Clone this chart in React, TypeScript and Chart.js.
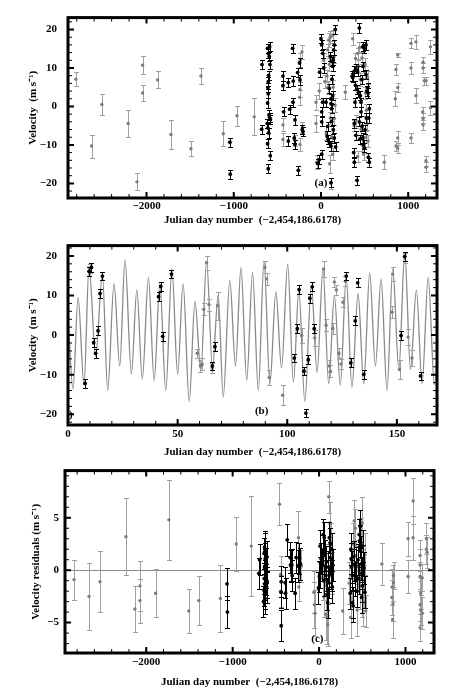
import React, { useEffect, useRef } from 'react';
import { Chart, registerables } from 'chart.js';

Chart.register(...registerables);

const FONT = '"Liberation Serif", "Times New Roman", Times, serif';
const W = 463;
const X_TITLE = 'Julian day number  (\u22122,454,186.6178)';

// ---------- tick values ----------
const A_X_TICKS = [-2000, -1000, 0, 1000];
const A_Y_TICKS = [-20, -10, 0, 10, 20];
const B_X_TICKS = [0, 50, 100, 150];
const B_Y_TICKS = [-20, -10, 0, 10, 20];
const C_X_TICKS = [-2000, -1000, 0, 1000];
const C_Y_TICKS = [-5, 0, 5];

// ---------- Panel (a): velocities vs time ----------
const A_GRAY_DAY = [-2810, -2630, -2512, -2210, -2110, -2045, -2045, -1873, -1720, -1491, -1376, -1120, -963, -765,
  -436, -436, -298, -245, -241, -241, -237, -218, -212, -57, -57, -50, 69, 76, 88, 107, 99, 115, 96, 76, 161, 134, 153,
  134, 107, 122, 279, 363, 420, 440, 451, 470, 489, 500, 510, 520, 530, 540, 470, 459, 400, 420, 726, 852, 860, 880,
  880, 860, 880, 880, 1032, 1032, 1032, 1089, 1089, 1170, 1170, 1185, 1205, 1166, 1170, 1170, 1204, 1204, 1255, 1255,
  30, 45, 60, 140, 150, 380, 395, 430, 505, 535, 515, -20];
const A_GRAY_VEL = [7.1, -10.3, 0.5, -4.4, -19.6, 3.5, 10.7, 6.9, -7.3, -11.0, 7.9, -7.1, -2.4, -2.7,
  -4.8, -8.6, -8.8, 2.4, 4.4, -9.9, 12.0, 14.2, -5.4, 1.1, -4.4, -14.5, 7.9, 4.9, 17.2, 18.0, -14.9, -20.0, 10.9, 14.7, 0.3, 18.5, -3.1,
  -12.4, -3.0, -8.0, 3.7, 17.6, 13.8, 15.3, 7.0, 12.6, -12.4, 9.0, 3.5, -1.0, -4.5, -9.0, -10.0, -6.0, -3.8, -13.0, -14.5, 2.0, 9.6, 13.4,
  4.9, -10.3, -10.8, -8.2, 16.4, 10.0, -8.2, 16.8, 2.8, 11.5, 10.0, 6.7, 6.7, -1.4, -3.1, -4.8, -14.1, -15.8, 15.5, -0.3,
  12.0, 6.5, -7.0, 5.0, 13.0, -5.0, 12.5, 10.5, 11.0, 7.5, -8.0, 4.0];
const A_GRAY_ERR = [1.8, 3.0, 2.8, 3.6, 2.2, 2.2, 2.3, 2.2, 3.7, 2.0, 2.1, 3.2, 2.6, 4.8,
  1.7, 1.7, 1.4, 2.0, 2.0, 1.8, 1.8, 1.8, 1.4, 2.0, 2.3, 1.8, 1.6, 1.6, 1.8, 1.6, 2.4, 1.4, 1.6, 1.5, 1.8, 1.5, 1.6,
  1.6, 1.6, 1.6, 1.8, 1.5, 1.5, 1.5, 1.6, 1.5, 1.6, 1.5, 1.6, 1.6, 1.6, 1.6, 1.5, 1.5, 1.7, 1.5, 1.8, 2.0, 1.5, 0.6,
  1.2, 1.2, 1.2, 1.8, 1.3, 1.5, 1.3, 1.8, 2.0, 1.3, 1.3, 1.0, 1.0, 1.3, 1.3, 1.3, 1.3, 1.3, 1.8, 1.8,
  1.8, 1.6, 1.8, 1.8, 1.6, 1.5, 1.5, 1.5, 1.5, 1.6, 1.6, 2.0];

const A_BLACK_DAY = [-1044, -1040, -676, -680, -589, -612, -604, -593, -585, -600, -604, -608, -604, -612, -596, -589,
  -581, -616, -608, -600, -612, -581, -604, -436, -436, -428, -375, -359, -325, -321, -318, -375, -306, -298, -298,
  -268, -260, -245, -241, -215, -207, 0, 8, 19, -15, 31, 8, 19, 8, 57, 76, 69, 84, 96, 115, 122, 134, 115, 126, 134,
  141, 145, 153, 164, 168, 153, 141, 115, 122, 96, 107, 122, -38, -19, 8, 115, 440, 413, 382, 375, 382, 390, 356, 365,
  382, 401, 420, 428, 451, 459, 470, 478, 489, 497, 478, 497, 516, 516, 535, 554, 459, 470, 482, 554, 543, 440, 505,
  520, 395, 410, 400, 445, 525, 540, 548];
const A_BLACK_VEL = [-9.3, -17.6, 10.9, -5.9, 15.5, 15.1, 13.8, 13.0, 10.9, 8.1, 6.4, 4.9, 3.3, 0.9, -2.2, -2.9,
  -3.3, -4.4, -5.6, -6.9, -9.7, -12.8, -16.2, 7.9, 5.4, -1.4, 6.2, -0.7, 15.1, 1.1, 6.6, -9.0, -8.2, -9.9, -3.5,
  8.8, -16.6, 11.3, 6.9, -6.0, -6.5, 17.6, 16.0, 13.8, 8.9, 10.0, -1.4, 1.1, -4.0, 1.1, -5.2, -7.7, -8.6, -9.4, -10.3, -0.6, 2.8, 2.0, 7.1, 10.4,
  12.1, 14.7, 16.0, 20.0, -10.5, -8.2, -6.0, 0.7, -3.9, 4.7, 13.0, 11.7, -14.8, -13.8, -12.4, -19.8, 20.4, -19.2, -14.5, -12.0, -4.4, 1.1, 7.9, 7.5,
  9.2, 9.8, 9.2, 3.7, 2.8, -1.4, -5.2, -8.2, -9.9, -10.7, 15.5, 15.1, 16.0, 8.3, 4.9, -0.6, 1.1, 7.0, 10.4, -14.5, -13.2, -4.0, -6.0,
  -3.0, 5.5, 4.5, -7.5, -8.5, 4.0, 3.5, -3.0];
const A_BLACK_ERR = 1.2;

// ---------- Panel (b): zoom on 0-168 days with model curve ----------
const B_CURVE_DAY = [-0.3, 2.3, 4.6, 7.3, 9.6, 12.6, 15.7, 18.1, 21.0, 23.6, 26.0, 28.9, 31.4, 33.9, 36.7, 39.3,
  41.9, 44.6, 47.4, 50.0, 52.5, 55.3, 57.9, 60.6, 63.2, 65.9, 68.5, 70.8, 73.8, 76.4, 78.9, 81.5, 84.2, 86.8, 89.4,
  92.1, 94.8, 97.4, 100.2, 102.8, 105.3, 108.0, 111.0, 113.6, 116.3, 118.9, 121.5, 124.2, 126.9, 129.5, 132.3,
  134.9, 137.6, 140.2, 142.8, 145.5, 148.1, 150.9, 153.6, 156.2, 158.9, 161.5, 164.3, 167.1, 169.6];
const B_CURVE_VEL = [8.5, -13.6, 9.6, -12.7, 17.5, -5.4, 15.4, -14.0, 13.0, -7.8, 19.0, -9.9, 11.4, -11.1, 14.6, -11.5,
  13.0, -14.0, 16.7, -9.9, 13.0, -16.8, 8.5, -9.1, 18.7, -8.3, 10.1, -15.6, 13.8, -7.8, 17.1, -11.5, 15.8, -14.0, 18.7,
  -12.3, 10.9, -8.3, 17.9, -11.9, 11.4, -16.8, 12.6, -9.5, 16.7, -12.3, 10.1, -12.7, 14.6, -13.2, 10.5,
  -12.3, 15.8, -7.8, 14.2, -14.0, 16.7, -8.7, 20.8, -8.7, 11.4, -12.3, 14.6, -12.5, 8.0];

const B_BLACK_DAY = [7.8, 9.6, 10.7, 11.7, 12.6, 13.7, 14.6, 15.7, 41.3, 42.3, 43.2, 47.2, 65.8, 67.0, 103.2, 104.6,
  105.4, 107.6, 108.5, 109.6, 110.3, 111.4, 112.3, 126.9, 129.0, 131.0, 132.1, 134.9, 151.9, 153.6, 160.8];
const B_BLACK_VEL = [-12.2, 16.1, 17.1, -1.9, -4.6, 1.1, 10.5, 14.9, 9.7, 12.3, -0.3, 15.4, -7.8, -2.9, -5.8, 1.6,
  11.5, -9.1, -19.7, -6.2, 9.3, 12.2, 1.6, 14.9, -7.0, 3.6, 13.2, -9.9, -0.1, 19.9, -10.3];
const B_BLACK_ERR = 1.1;

const B_GRAY_DAY = [58.9, 60.4, 61.2, 61.9, 63.2, 64.3, 65.8, 68.2, 89.8, 90.6, 91.8, 97.9, 106.6, 112.5, 116.6, 117.7,
  119.2, 119.7, 120.7, 121.5, 122.4, 123.5, 124.5, 125.4, 126.5, 147.8, 148.1, 151.2, 153.6, 155.1, 156.9, 10.2];
const B_GRAY_VEL = [-4.6, -7.8, -7.4, 6.5, 18.3, 7.7, -8.3, 7.4, 17.1, 14.2, -10.7, -15.2, -0.1, -0.7, 16.7, 2.5,
  -7.8, -9.1, 1.7, 13.4, 11.4, -4.6, -7.3, 8.3, 13.6, 5.8, 15.4, -8.7, 19.5, -0.5, -5.8, 16.8];
const B_GRAY_ERR = [1.2, 1.5, 1.5, 1.5, 1.8, 1.5, 1.2, 3.5, 1.5, 1.5, 2.0, 2.5, 2.0, 2.0, 2.0, 1.5,
  1.5, 1.5, 1.3, 1.3, 1.3, 1.3, 1.3, 1.3, 1.3, 1.5, 1.8, 2.5, 1.3, 2.0, 2.0, 1.2];

// ---------- Panel (c): residuals ----------
const C_GRAY_DAY = [-2835, -2662, -2535, -2235, -2131, -2073, -2073, -1892, -1738, -1508, -1392, -1142, -958, -785,
  -458, -446, -446, -238, -204, -235, -54, -46, -60, 112, 92, 100, 80, 60, 125, 135, 70, 40, 145,
  273, 350, 407, 420, 427, 440, 470, 480, 500, 510, 520, 530, 540, 380, 395, 455, 495, 365,
  727, 842, 845, 850, 855, 860, 862, 1031, 1031, 1088, 1088, 1169, 1169, 1169, 1177, 1169, 1175, 1169, 1190, 1195,
  1242, 1242, 1250];
const C_GRAY_VEL = [-0.9, -2.5, -1.1, 3.2, -3.7, -1.5, -2.9, -2.2, 4.8, -3.9, -2.9, -2.7, 2.5, 2.3,
  6.3, -0.4, -2.0, 3.1, 0.4, -1.6, -3.3, -4.1, -2.1, 7.0, -4.5, -5.2, -4.2, -2.5, 4.5, 2.5, 0.5, -0.8, -0.3,
  -3.9, -1.25, 4.7, 4.0, 1.4, -3.8, -1.5, 3.0, 4.5, -3.0, -1.5, 1.5, -3.9, -0.8, 2.5, 0.3, -2.5, -4.5,
  0.6, -2.6, -1.6, -4.7, -3.2, -1.2, -0.5, 3.0, -0.6, 6.6, 3.1, 1.4, 0.5, -0.6, -2.2, -3.3, -3.8, -5.5, -0.7, -4.1,
  3.0, 2.0, 1.7];
const C_GRAY_ERR = [1.9, 3.2, 2.9, 3.7, 2.2, 2.4, 2.1, 2.3, 3.8, 2.1, 2.3, 3.2, 2.6, 4.8,
  2.0, 1.8, 1.5, 2.5, 1.5, 1.3, 2.2, 2.2, 2.0, 1.5, 2.5, 2.0, 2.5, 2.0, 2.0, 2.0, 2.0, 2.0, 2.0,
  2.2, 2.0, 2.0, 1.8, 1.5, 2.5, 2.2, 2.0, 2.5, 2.3, 2.0, 2.0, 1.5, 2.0, 2.0, 2.0, 2.0, 2.0,
  2.0, 1.7, 1.7, 1.8, 1.6, 1.7, 1.3, 1.6, 1.6, 2.2, 2.1, 1.5, 1.5, 1.4, 1.5, 1.5, 1.4, 1.3, 1.3, 1.5,
  1.5, 1.4, 1.5];

const C_BLACK_DAY = [-1065, -1061, -688, -696, -631, -627, -635, -623, -631, -612, -620, -635, -616, -631, -608, -639,
  -623, -627, -643, -610, -600, -605, -438, -438, -438, -392, -388, -369, -334, -323, -315, -277, -265, -246, -227,
  -215, -330, -310, -8, 4, 11, 23, 42, 49, 61, 69, 80, 92, 100, 108, 119, 126, 138, 146, 153, 15, 30, 55, 85, 130,
  112, 150, 158, 369, 376, 361, 388, 395, 465, 476, 482, 488, 495, 500, 493, 510, 505, 400, 410, 420, 430, 440, 450,
  460, 470, 520, 530, 385, 372];
const C_BLACK_VEL = [-1.3, -4.0, 1.0, -0.3, 2.2, 2.0, 1.6, 1.1, 0.3, -0.2, -0.5, -0.8, -0.9, -1.3, -1.6, -1.9,
  -2.2, -2.7, -3.0, 0.6, -1.2, 1.3, -1.1, -2.1, -5.3, -1.2, -2.2, 2.9, 1.2, 0.4, 0.5, -2.2, 1.2, 0.4, 1.1,
  0.6, 0.5, -0.5, -1.7, -0.6, 2.3, 1.1, 1.9, 3.4, 3.1, 1.4, -0.5, -2.3, -3.1, 0.3, 3.1, 1.2, -0.3, 2.0, -1.6, -0.2, 0.5, -1.0, 0.8, 2.5,
  -1.2, -0.5, 0.5, 2.0, 0.3, -2.2, -3.1, -3.4, 3.4, 4.2, 1.8, 0.6, -0.3, -1.5, -2.6, 0.9, 2.3, 1.3, 0.5, -1.0, 0.7, -2.0, 1.0,
  -0.8, 2.8, 0.2, -2.1, -0.5, 1.1];
const C_BLACK_ERR = 1.5;

// ---------- helpers ----------
const pts = (xs: number[], ys: number[]) => xs.map((x, i) => ({ x, y: ys[i] }));
const fmt = (v: number) => (v < 0 ? '\u2212' + Math.abs(v) : String(v));

const errorBarPlugin = {
  id: 'errbars',
  beforeDatasetDraw(chart: any, args: any) {
    const ds: any = chart.data.datasets[args.index];
    if (!ds.errors) return;
    const { ctx, chartArea: a } = chart;
    const xs = chart.scales.x;
    const ys = chart.scales.y;
    ctx.save();
    ctx.beginPath();
    ctx.rect(a.left, a.top, a.right - a.left, a.bottom - a.top);
    ctx.clip();
    ctx.strokeStyle = ds.errorColor;
    ctx.lineWidth = 1;
    ctx.beginPath();
    ds.data.forEach((p: any, i: number) => {
      const e = ds.errors[i];
      const x = Math.round(xs.getPixelForValue(p.x)) + 0.5;
      const y1 = Math.round(ys.getPixelForValue(p.y + e)) + 0.5;
      const y2 = Math.round(ys.getPixelForValue(p.y - e)) + 0.5;
      ctx.moveTo(x, y1);
      ctx.lineTo(x, y2);
      ctx.moveTo(x - 2.5, y1);
      ctx.lineTo(x + 2.5, y1);
      ctx.moveTo(x - 2.5, y2);
      ctx.lineTo(x + 2.5, y2);
    });
    ctx.stroke();
    ctx.restore();
  },
};

const framePlugin = {
  id: 'frame',
  beforeDatasetsDraw(chart: any, _args: any, opts: any) {
    if (!opts || !opts.zeroLine) return;
    const { ctx, chartArea: a } = chart;
    const y = Math.round(chart.scales.y.getPixelForValue(0)) + 0.5;
    ctx.save();
    ctx.strokeStyle = '#8c8c8c';
    ctx.lineWidth = 1;
    ctx.beginPath();
    ctx.moveTo(a.left, y);
    ctx.lineTo(a.right, y);
    ctx.stroke();
    ctx.restore();
  },
  afterDatasetsDraw(chart: any, _args: any, opts: any) {
    const { ctx, chartArea: a } = chart;
    const xs = chart.scales.x;
    const ys = chart.scales.y;
    ctx.save();
    ctx.strokeStyle = '#000';
    const ticksX = (step: number, len: number, lw: number) => {
      ctx.lineWidth = lw;
      ctx.beginPath();
      const k0 = Math.ceil(xs.min / step);
      const k1 = Math.floor(xs.max / step);
      for (let k = k0; k <= k1; k++) {
        const px = xs.getPixelForValue(k * step);
        ctx.moveTo(px, a.bottom);
        ctx.lineTo(px, a.bottom - len);
        ctx.moveTo(px, a.top);
        ctx.lineTo(px, a.top + len);
      }
      ctx.stroke();
    };
    const ticksY = (step: number, len: number, lw: number) => {
      ctx.lineWidth = lw;
      ctx.beginPath();
      const k0 = Math.ceil(ys.min / step);
      const k1 = Math.floor(ys.max / step);
      for (let k = k0; k <= k1; k++) {
        const py = ys.getPixelForValue(k * step);
        ctx.moveTo(a.left, py);
        ctx.lineTo(a.left + len, py);
        ctx.moveTo(a.right, py);
        ctx.lineTo(a.right - len, py);
      }
      ctx.stroke();
    };
    ticksX(opts.xMinor, 4, 1);
    ticksX(opts.xMajor, 6, 2);
    ticksY(opts.yMinor, 4, 1);
    ticksY(opts.yMajor, 6, 2);
    ctx.lineWidth = 3;
    ctx.strokeRect(a.left, a.top, a.right - a.left, a.bottom - a.top);
    ctx.fillStyle = '#000';
    ctx.font = `bold 11px ${FONT}`;
    ctx.textAlign = 'center';
    ctx.textBaseline = 'middle';
    (opts.labels || []).forEach((l: any) => {
      ctx.fillText(l.text, xs.getPixelForValue(l.x), ys.getPixelForValue(l.y));
    });
    ctx.restore();
  },
};

type PanelSpec = {
  H: number;
  left: number;
  top: number;
  right: number;
  bottom: number;
  xMin: number;
  xMax: number;
  yMin: number;
  yMax: number;
  xTicks: number[];
  yTicks: number[];
  xMajor: number;
  xMinor: number;
  yMajor: number;
  yMinor: number;
  yTitle: string;
  yTitlePad: number;
  yTickPad: number;
  xTickPad: number;
  xTitlePad: number;
  datasets: any[];
  labels: { x: number; y: number; text: string }[];
  zeroLine?: boolean;
};

function buildConfig(s: PanelSpec): any {
  const tickFont = { family: FONT, size: 11, weight: 'bold' as const };
  return {
    type: 'scatter',
    data: { datasets: s.datasets },
    plugins: [errorBarPlugin, framePlugin],
    options: {
      responsive: false,
      maintainAspectRatio: false,
      animation: false,
      devicePixelRatio: 1,
      events: [],
      layout: { padding: { top: s.top, right: W - s.right, left: 0, bottom: 0 } },
      plugins: {
        legend: { display: false },
        tooltip: { enabled: false },
        frame: {
          xMajor: s.xMajor,
          xMinor: s.xMinor,
          yMajor: s.yMajor,
          yMinor: s.yMinor,
          labels: s.labels,
          zeroLine: !!s.zeroLine,
        },
      },
      scales: {
        x: {
          type: 'linear',
          min: s.xMin,
          max: s.xMax,
          grid: { display: false, drawTicks: false },
          border: { display: false },
          afterBuildTicks: (sc: any) => {
            sc.ticks = s.xTicks.map((v) => ({ value: v }));
          },
          ticks: {
            autoSkip: false,
            maxRotation: 0,
            padding: s.xTickPad,
            color: '#000',
            font: tickFont,
            callback: (v: any) => fmt(Number(v)),
          },
          title: {
            display: true,
            text: X_TITLE,
            color: '#000',
            font: { family: FONT, size: 11, weight: 'bold', lineHeight: 1 },
            padding: { top: 0, bottom: s.xTitlePad },
          },
          afterFit: (sc: any) => {
            sc.height = s.H - s.bottom;
          },
        },
        y: {
          type: 'linear',
          min: s.yMin,
          max: s.yMax,
          grid: { display: false, drawTicks: false },
          border: { display: false },
          afterBuildTicks: (sc: any) => {
            sc.ticks = s.yTicks.map((v) => ({ value: v }));
          },
          ticks: {
            autoSkip: false,
            padding: s.yTickPad,
            color: '#000',
            font: tickFont,
            callback: (v: any) => fmt(Number(v)),
          },
          title: {
            display: true,
            text: s.yTitle,
            color: '#000',
            font: { family: FONT, size: 11, weight: 'bold', lineHeight: 1 },
            padding: { top: s.yTitlePad, bottom: 0 },
          },
          afterFit: (sc: any) => {
            sc.width = s.left;
          },
        },
      },
    },
  };
}

const grayDs = (xs: number[], ys: number[], errs: number[]) => ({
  data: pts(xs, ys),
  errors: errs,
  errorColor: '#a0a0a0',
  pointRadius: 1.7,
  pointBackgroundColor: '#7c7c7c',
  pointBorderWidth: 0,
  showLine: false,
  order: 1,
});

const blackDs = (xs: number[], ys: number[], err: number) => ({
  data: pts(xs, ys),
  errors: xs.map(() => err),
  errorColor: '#000',
  pointRadius: 1.9,
  pointBackgroundColor: '#000',
  pointBorderWidth: 0,
  showLine: false,
  order: 0,
});

const SPEC_A: PanelSpec = {
  H: 228, left: 68, top: 13, right: 437, bottom: 198,
  xMin: -2900, xMax: 1330, yMin: -23.8, yMax: 23.1,
  xTicks: A_X_TICKS, yTicks: A_Y_TICKS,
  xMajor: 1000, xMinor: 200, yMajor: 10, yMinor: 2,
  yTitle: 'Velocity  (m s\u207B\u00B9)', yTitlePad: 27.5, yTickPad: 11, xTickPad: 2, xTitlePad: 2.5,
  datasets: [grayDs(A_GRAY_DAY, A_GRAY_VEL, A_GRAY_ERR), blackDs(A_BLACK_DAY, A_BLACK_VEL, A_BLACK_ERR)],
  labels: [{ x: 0, y: -20, text: '(a)' }],
};

const SPEC_B: PanelSpec = {
  H: 230, left: 68, top: 12, right: 437, bottom: 197,
  xMin: 0, xMax: 168.3, yMin: -22.7, yMax: 22.6,
  xTicks: B_X_TICKS, yTicks: B_Y_TICKS,
  xMajor: 50, xMinor: 10, yMajor: 10, yMinor: 2,
  yTitle: 'Velocity  (m s\u207B\u00B9)', yTitlePad: 27.5, yTickPad: 11, xTickPad: 3, xTitlePad: 0,
  datasets: [
    {
      type: 'line',
      data: pts(B_CURVE_DAY, B_CURVE_VEL),
      showLine: true,
      borderColor: '#8a8a8a',
      borderWidth: 1.3,
      pointRadius: 0,
      cubicInterpolationMode: 'monotone',
      fill: false,
      order: 2,
    },
    grayDs(B_GRAY_DAY, B_GRAY_VEL, B_GRAY_ERR),
    blackDs(B_BLACK_DAY, B_BLACK_VEL, B_BLACK_ERR),
  ],
  labels: [
    { x: 88.3, y: -19.3, text: '(b)' },
    { x: 1.3, y: -20.1, text: ')' },
  ],
};

const SPEC_C: PanelSpec = {
  H: 230, left: 65, top: 10, right: 434, bottom: 195,
  xMin: -2940, xMax: 1330, yMin: -7.9, yMax: 9.5,
  xTicks: C_X_TICKS, yTicks: C_Y_TICKS,
  xMajor: 1000, xMinor: 200, yMajor: 5, yMinor: 1,
  yTitle: 'Velocity residuals (m s\u207B\u00B9)', yTitlePad: 30.5, yTickPad: 6, xTickPad: 3, xTitlePad: 0,
  datasets: [grayDs(C_GRAY_DAY, C_GRAY_VEL, C_GRAY_ERR), blackDs(C_BLACK_DAY, C_BLACK_VEL, C_BLACK_ERR)],
  labels: [{ x: -20, y: -6.6, text: '(c)' }],
  zeroLine: true,
};

function Panel({ spec }: { spec: PanelSpec }) {
  const ref = useRef<HTMLCanvasElement>(null);
  useEffect(() => {
    if (!ref.current) return;
    const chart = new Chart(ref.current, buildConfig(spec));
    return () => chart.destroy();
  }, [spec]);
  return (
    <div style={{ width: W, height: spec.H }}>
      <canvas ref={ref} width={W} height={spec.H} style={{ display: 'block', width: W, height: spec.H }} />
    </div>
  );
}

export default function App() {
  return (
    <div style={{ position: 'absolute', left: 0, top: 0, width: W, height: 688, background: '#fff' }}>
      <Panel spec={SPEC_A} />
      <Panel spec={SPEC_B} />
      <Panel spec={SPEC_C} />
    </div>
  );
}
